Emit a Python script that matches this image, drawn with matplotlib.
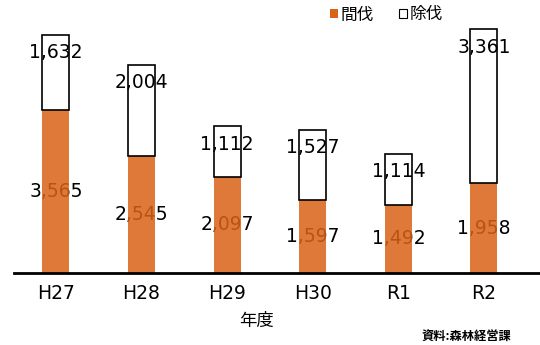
import numpy as np
import matplotlib
matplotlib.use('Agg')
import matplotlib.pyplot as plt
from matplotlib.patches import Patch

plt.rcParams['font.family'] = ['Noto Sans CJK JP', 'DejaVu Sans']

# 年度別の間伐・除伐の実績
years = ['H27', 'H28', 'H29', 'H30', 'R1', 'R2']
kanbatsu = [3565, 2545, 2097, 1597, 1492, 1958]
jobatsu = [1632, 2004, 1112, 1527, 1114, 3361]

orange = '#DA6217'

fig = plt.figure(figsize=(5.4, 3.45), dpi=100)
ax = fig.add_axes([14/540, 72/345, 526/540, 263/345])

x = np.arange(len(years))
w = 0.315

# 間伐 (下段) はうっすら透けるように
ax.bar(x, kanbatsu, w, color=orange, alpha=0.85, zorder=3)
ax.bar(x, jobatsu, w, bottom=kanbatsu, facecolor='none',
       edgecolor='black', linewidth=1.2, zorder=3)

for i in range(len(years)):
    total = kanbatsu[i] + jobatsu[i]
    ax.annotate(f'{jobatsu[i]:,}', (x[i], total), xytext=(0, -13),
                textcoords='offset points', ha='center', va='center',
                fontsize=13.5, family='DejaVu Sans', zorder=2)
    ax.text(x[i], kanbatsu[i] / 2, f'{kanbatsu[i]:,}', ha='center',
            va='center', fontsize=13.5, family='DejaVu Sans', zorder=2)

ax.set_xlim(-0.49, 5.655)
ax.set_ylim(0, 5740)
ax.set_xticks(x)
ax.set_xticklabels(years, fontsize=13.5, family='DejaVu Sans')
ax.tick_params(axis='x', length=0, pad=8)
ax.set_yticks([])
for s in ['top', 'right', 'left']:
    ax.spines[s].set_visible(False)
ax.spines['bottom'].set_linewidth(2)
ax.spines['bottom'].set_zorder(4)

fig.text(257/540, 1 - 321/345, '年度', ha='center', va='center', fontsize=12.5)
fig.text(511/540, 1 - 337/345, '資料:森林経営課', ha='right', va='center',
         fontsize=8.8, fontweight='bold')

handles = [Patch(facecolor=orange, edgecolor='none'),
           Patch(facecolor='white', edgecolor='black', linewidth=0.8)]
fig.legend(handles, ['間伐', '除伐'], loc='center left',
           bbox_to_anchor=(330/540, 1 - 15/345), ncol=2, frameon=False,
           fontsize=12, handlelength=0.45, handleheight=0.45,
           handletextpad=0.2, columnspacing=1.5, borderpad=0, borderaxespad=0)

fig.savefig('out.png', dpi=100)
